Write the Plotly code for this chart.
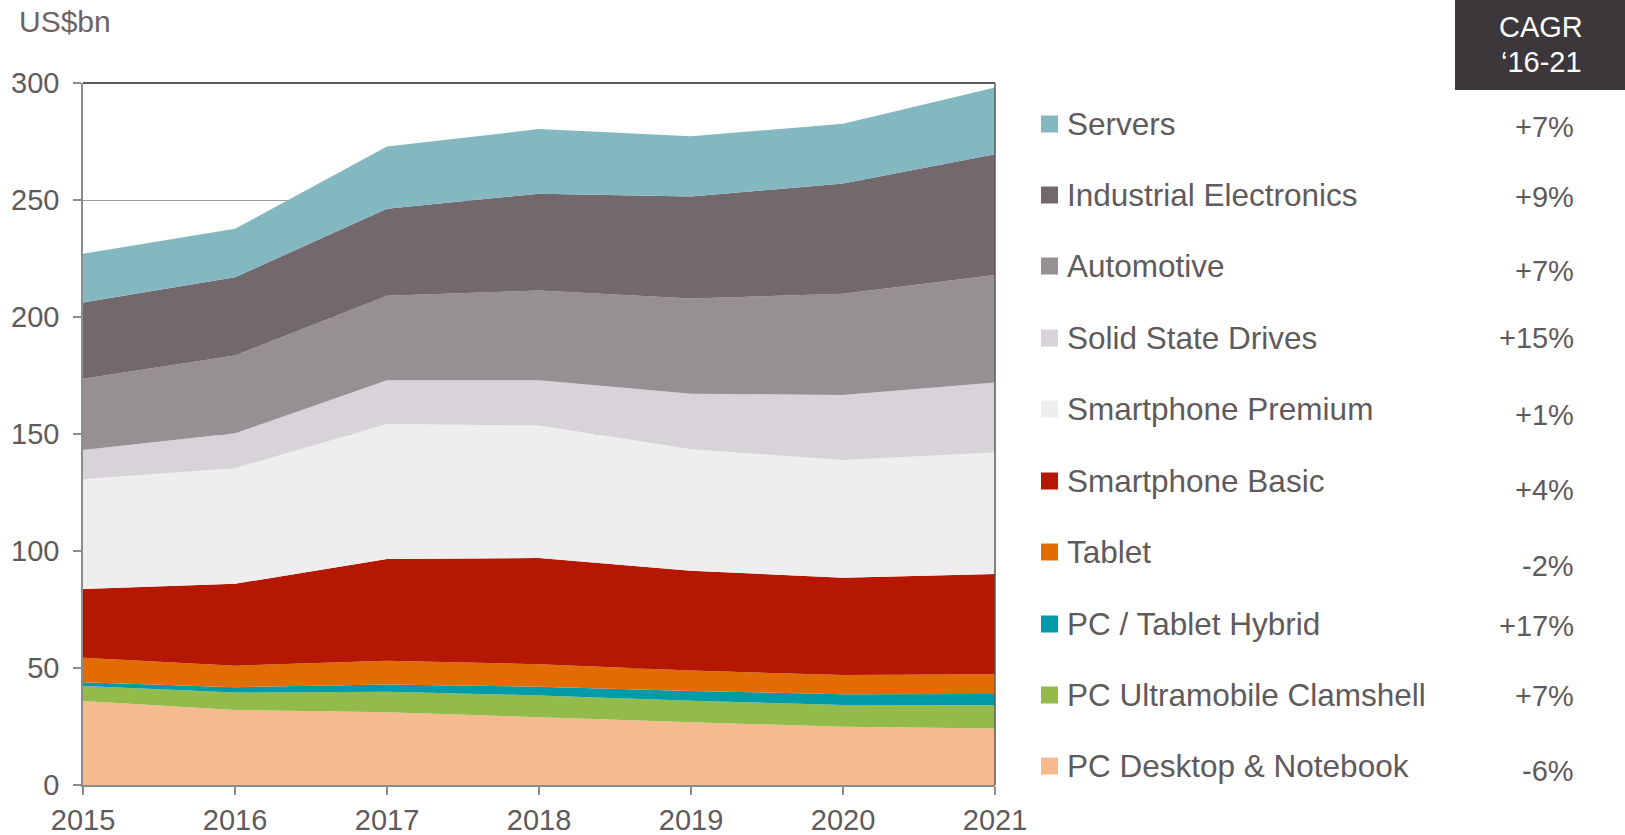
import plotly.graph_objects as go

years = [2015, 2016, 2017, 2018, 2019, 2020, 2021]

# series from bottom of stack to top
series_names = [
    "PC Desktop & Notebook",
    "PC Ultramobile Clamshell",
    "PC / Tablet Hybrid",
    "Tablet",
    "Smartphone Basic",
    "Smartphone Premium",
    "Solid State Drives",
    "Automotive",
    "Industrial Electronics",
    "Servers",
]
pc_desktop = [35.9, 32.1, 31.1, 28.9, 26.8, 24.9, 24.1]
pc_clamshell = [6.4, 7.4, 8.8, 9.4, 9.2, 9.3, 10.0]
pc_hybrid = [1.6, 2.3, 3.1, 3.7, 4.2, 4.6, 4.8]
tablet = [10.5, 9.2, 10.1, 9.6, 8.7, 8.2, 8.4]
smartphone_basic = [29.4, 35.0, 43.5, 45.4, 42.7, 41.6, 42.9]
smartphone_premium = [46.9, 49.4, 57.7, 56.6, 51.9, 50.3, 51.9]
ssd = [12.5, 14.9, 18.7, 19.4, 23.7, 27.8, 29.9]
automotive = [30.4, 33.2, 36.1, 38.3, 40.7, 43.2, 46.0]
industrial = [32.6, 33.5, 37.2, 41.4, 43.6, 47.1, 51.6]
servers = [20.8, 20.7, 26.6, 27.6, 25.7, 25.6, 28.5]
series_values = [pc_desktop, pc_clamshell, pc_hybrid, tablet, smartphone_basic,
                 smartphone_premium, ssd, automotive, industrial, servers]
colors = ["#f5bb8e", "#93bb4c", "#009ba8", "#e36c02", "#b51700",
          "#eeeeee", "#d8d3d9", "#968f93", "#72686d", "#84b8c1"]

# CAGR '16-21 labels (same order, bottom to top)
cagr_labels = ["-6%", "+7%", "+17%", "-2%", "+4%", "+1%", "+15%", "+7%", "+9%", "+7%"]

y_ticks = [0, 50, 100, 150, 200, 250, 300]

# ---------- layout geometry (pixels) ----------
WIDTH, HEIGHT = 1625, 835
L, R, T, B = 83, 995, 83, 785
PW, PH = R - L, B - T

def px(x):
    return (x - L) / PW

def py(y):
    return (B - y) / PH

TEXT = "#5f5a5c"
FONT = "Liberation Sans, Arial, sans-serif"

fig = go.Figure()
for name, vals, col in zip(series_names, series_values, colors):
    fig.add_trace(go.Scatter(
        x=years, y=vals, name=name, mode="lines",
        stackgroup="one", line=dict(width=0, color=col),
        fillcolor=col, showlegend=False, hoverinfo="x+y+name",
    ))

shapes = []
annotations = []

# top and right frame lines
shapes.append(dict(type="line", xref="paper", yref="paper", x0=0, x1=1, y0=1, y1=1,
                   line=dict(color="#5a5a5a", width=2), layer="above"))
shapes.append(dict(type="line", xref="paper", yref="paper", x0=1, x1=1, y0=0, y1=1,
                   line=dict(color="#5a5a5a", width=1.5), layer="above"))

# legend (top to bottom)
legend_text_y = [124, 195, 266, 338, 409, 481, 552, 624, 695, 766]
cagr_text_y = [127, 197, 271, 338, 415, 490, 566, 626, 696, 771]
for i, idx in enumerate(range(len(series_names) - 1, -1, -1)):
    yc = legend_text_y[i]
    shapes.append(dict(type="rect", xref="paper", yref="paper",
                       x0=px(1041), x1=px(1058), y0=py(yc + 8.5), y1=py(yc - 8.5),
                       fillcolor=colors[idx], line=dict(width=0)))
    annotations.append(dict(xref="paper", yref="paper", x=px(1065), y=py(yc),
                            xanchor="left", yanchor="middle", showarrow=False,
                            text=series_names[idx],
                            font=dict(family=FONT, size=31.5, color=TEXT)))
    annotations.append(dict(xref="paper", yref="paper", x=px(1576), y=py(cagr_text_y[i]),
                            xanchor="right", yanchor="middle", showarrow=False,
                            text=cagr_labels[idx],
                            font=dict(family=FONT, size=29, color=TEXT)))

# CAGR header box
shapes.append(dict(type="rect", xref="paper", yref="paper",
                   x0=px(1455), x1=px(1630), y0=py(90), y1=py(-5),
                   fillcolor="#3b373a", line=dict(width=0)))
annotations.append(dict(xref="paper", yref="paper", x=px(1541), y=py(27),
                        xanchor="center", yanchor="middle", showarrow=False,
                        text="CAGR", font=dict(family=FONT, size=29, color="#ffffff")))
annotations.append(dict(xref="paper", yref="paper", x=px(1541), y=py(62),
                        xanchor="center", yanchor="middle", showarrow=False,
                        text="\u201816-21", font=dict(family=FONT, size=29, color="#ffffff")))

# unit label
annotations.append(dict(xref="paper", yref="paper", x=px(17), y=py(21),
                        xanchor="left", yanchor="middle", showarrow=False,
                        text="US$bn", font=dict(family=FONT, size=30, color="#6b6467")))

fig.update_layout(
    width=WIDTH, height=HEIGHT, autosize=False,
    margin=dict(l=L, r=WIDTH - R, t=T, b=HEIGHT - B, pad=0),
    paper_bgcolor="white", plot_bgcolor="white",
    font=dict(family=FONT, color=TEXT),
    showlegend=False,
    shapes=shapes, annotations=annotations,
    xaxis=dict(range=[2015, 2021], tickvals=years, ticktext=[str(y) for y in years],
               automargin=False,
               ticks="outside", ticklen=8, tickcolor="#8c8c8c", tickwidth=1.5,
               showline=True, linecolor="#8c8c8c", linewidth=1.5,
               showgrid=False, zeroline=False,
               tickfont=dict(family=FONT, size=29, color=TEXT),
               ticklabelstandoff=0),
    yaxis=dict(range=[0, 300], tickvals=y_ticks, automargin=False,
               ticks="outside", ticklen=8, tickcolor="#8c8c8c", tickwidth=1.5,
               showline=True, linecolor="#8c8c8c", linewidth=1.5,
               showgrid=True, gridcolor="#9a9a9a", gridwidth=1.2, zeroline=False,
               tickfont=dict(family=FONT, size=29, color=TEXT),
               ticklabelstandoff=8),
)

fig.write_html("out.html", config={"displayModeBar": False},
               post_script="document.body.style.margin='0px';")
